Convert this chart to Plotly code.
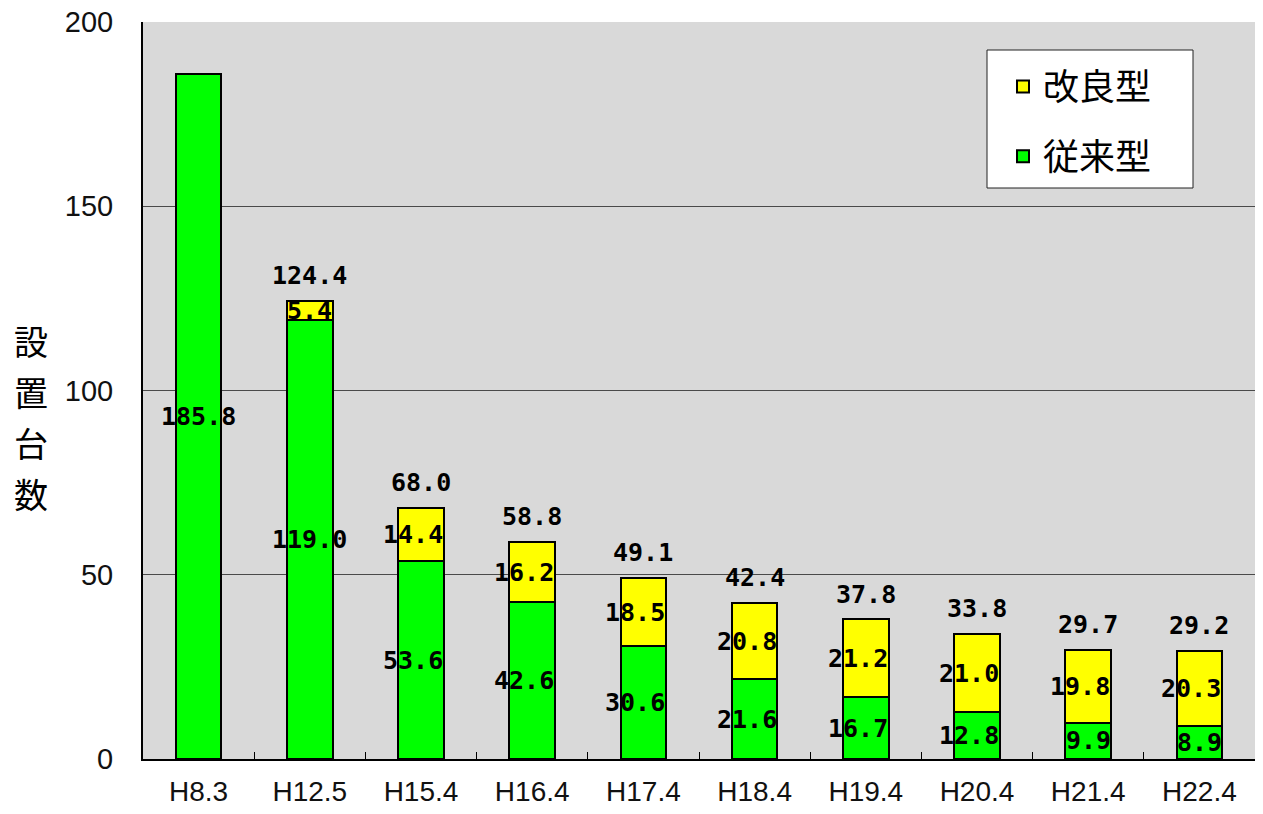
import plotly.graph_objects as go

categories = ["H8.3", "H12.5", "H15.4", "H16.4", "H17.4", "H18.4", "H19.4", "H20.4", "H21.4", "H22.4"]
conventional = [185.8, 119.0, 53.6, 42.6, 30.6, 21.6, 16.7, 12.8, 9.9, 8.9]
improved = [None, 5.4, 14.4, 16.2, 18.5, 20.8, 21.2, 21.0, 19.8, 20.3]
totals = [None, 124.4, 68.0, 58.8, 49.1, 42.4, 37.8, 33.8, 29.7, 29.2]
y_ticks = [0, 50, 100, 150, 200]
y_title_chars = ["設", "置", "台", "数"]

GREEN = "#00FF00"
YELLOW = "#FFFF00"
LABEL_FONT = dict(family="DejaVu Sans Mono", size=25, color="#000000", weight="bold")

# figure geometry (page has an 8px body margin)
FIG_W, FIG_H = 1247, 798
ML, MT, MB, MR = 135, 14, 47, 0
PLOT_W = FIG_W - ML - MR
PLOT_H = FIG_H - MT - MB


def fmt(v):
    return "" if v is None else f"{v:.1f}"


def page_to_paper(px, py):
    fx, fy = px - 8, py - 8
    return (fx - ML) / PLOT_W, (FIG_H - MB - fy) / PLOT_H


fig = go.Figure()
fig.add_trace(go.Bar(
    x=categories, y=conventional, name="従来型", legendgroup="g1", legendrank=2,
    marker=dict(color=GREEN, line=dict(color="#000000", width=2)),
    hoverinfo="skip",
))
fig.add_trace(go.Bar(
    x=categories, y=improved, name="改良型", legendgroup="g2", legendrank=1,
    marker=dict(color=YELLOW, line=dict(color="#000000", width=2)),
    hoverinfo="skip",
))

annotations = []
# segment labels, centred in each stacked segment
for c, g, y in zip(categories, conventional, improved):
    segs = [(0, g)]
    if y is not None:
        segs.append((g, y))
    for base, v in segs:
        txt = fmt(v)
        annotations.append(dict(
            x=c, y=base + v / 2, xref="x", yref="y", text=txt, showarrow=False,
            xanchor="center", yanchor="middle", xshift=-8 if len(txt) == 4 else 0,
            font=LABEL_FONT,
        ))
# totals above bars
for c, t in zip(categories, totals):
    if t is None:
        continue
    annotations.append(dict(
        x=c, y=t, xref="x", yref="y", text=fmt(t), showarrow=False,
        yanchor="bottom", yshift=9, font=LABEL_FONT,
    ))

# vertical y-axis title, one character per annotation
title_px = [340, 391, 442, 493]
for ch, py in zip(y_title_chars, title_px):
    ax, ay = page_to_paper(31, py)
    annotations.append(dict(
        x=ax, y=ay, xref="paper", yref="paper", text=ch, borderpad=0,
        showarrow=False, xanchor="center", yanchor="middle",
        font=dict(family="Noto Sans CJK JP", size=34, color="#000000"),
    ))

# legend frame
bx0, by0 = page_to_paper(987, 188)
bx1, by1 = page_to_paper(1193, 50)
shapes = [dict(
    type="rect", xref="paper", yref="paper", x0=bx0, y0=by0, x1=bx1, y1=by1,
    fillcolor="#FFFFFF", line=dict(color="#222222", width=1), layer="above",
)]

lx, ly = page_to_paper(1003, 50)

fig.update_layout(
    width=FIG_W, height=FIG_H,
    margin=dict(l=ML, r=MR, t=MT, b=MB, autoexpand=False),
    paper_bgcolor="#FFFFFF", plot_bgcolor="#D9D9D9",
    barmode="stack", bargap=0.59,
    showlegend=True,
    legend=dict(
        x=lx, y=ly, xanchor="left", yanchor="top",
        bgcolor="rgba(0,0,0,0)", borderwidth=0,
        font=dict(family="Noto Sans CJK JP", size=36, color="#000000"),
        traceorder="grouped", tracegroupgap=20,
        title=dict(text=" ", font=dict(size=5)),
    ),
    shapes=shapes,
    annotations=annotations,
    xaxis=dict(
        type="category", showgrid=False, showline=True, linecolor="#000000", linewidth=2,
        ticks="inside", tickson="boundaries", ticklen=7, tickcolor="#000000", tickwidth=1,
        tickfont=dict(family="Liberation Sans", size=28, color="#111111"),
        ticklabelstandoff=6, ticklabeloverflow="allow", zeroline=False,
    ),
    yaxis=dict(
        range=[0, 200], tickvals=y_ticks, showgrid=True, gridcolor="#4a4a4a", gridwidth=1,
        showline=True, linecolor="#000000", linewidth=2, ticks="",
        tickfont=dict(family="Liberation Sans", size=29, color="#111111"),
        ticklabelstandoff=22, ticklabeloverflow="allow", zeroline=False,
    ),
)

fig.write_html("out.html")
